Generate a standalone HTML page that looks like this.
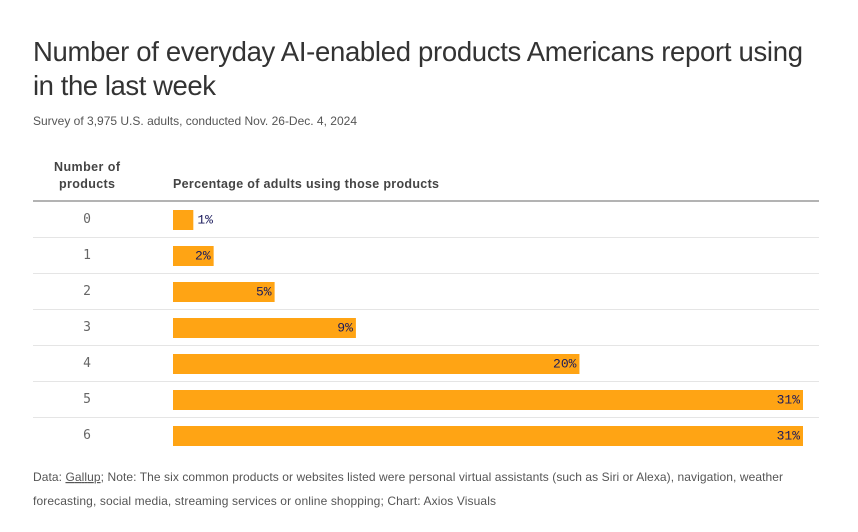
<!DOCTYPE html>
<html lang="en">
<head>
<meta charset="utf-8">
<title>Number of everyday AI-enabled products</title>
<style>
html,body{margin:0;padding:0;background:#fff;}
svg{display:block;}
text{font-family:"Liberation Sans",sans-serif;}
.mono{font-family:"Liberation Mono",monospace;}
.mono-cat{font-family:"DejaVu Sans Mono",monospace;}
</style>
</head>
<body>
<svg id="chart" width="858" height="532" viewBox="0 0 858 532" xmlns="http://www.w3.org/2000/svg">
  <rect x="0" y="0" width="858" height="532" fill="#fff"/>
  <text x="33" y="61" font-size="27.5" fill="#333" textLength="770" lengthAdjust="spacing">Number of everyday AI-enabled products Americans report using</text>
  <text x="33" y="95" font-size="27.5" fill="#333" textLength="183" lengthAdjust="spacing">in the last week</text>
  <text x="33" y="125" font-size="12" fill="#555" textLength="324" lengthAdjust="spacing">Survey of 3,975 U.S. adults, conducted Nov. 26-Dec. 4, 2024</text>
  <text x="87" y="171" font-size="12.5" font-weight="bold" fill="#444" text-anchor="middle" textLength="66" lengthAdjust="spacing">Number of</text>
  <text x="87" y="188" font-size="12.5" font-weight="bold" fill="#444" text-anchor="middle" textLength="56" lengthAdjust="spacing">products</text>
  <text x="173" y="188" font-size="12.5" font-weight="bold" fill="#444" textLength="266" lengthAdjust="spacing">Percentage of adults using those products</text>
  <rect x="33" y="200" width="786" height="2" fill="#b3b3b3"/>
  <g id="rows"></g>
  <text x="33" y="481" font-size="12" fill="#555" textLength="750" lengthAdjust="spacing">Data: <tspan text-decoration="underline">Gallup</tspan>; Note: The six common products or websites listed were personal virtual assistants (such as Siri or Alexa), navigation, weather</text>
  <text x="33" y="505" font-size="12" fill="#555" textLength="463" lengthAdjust="spacing">forecasting, social media, streaming services or online shopping; Chart: Axios Visuals</text>
</svg>
<script>
var categories = ["0", "1", "2", "3", "4", "5", "6"];
var seriesValues = [1, 2, 5, 9, 20, 31, 31];
var valueLabels = ["1%", "2%", "5%", "9%", "20%", "31%", "31%"];

var NS = 'http://www.w3.org/2000/svg';
var rowsGroup = document.getElementById('rows');
function xScale(v) { return v * 630 / 31; }
function rowTop(i) { return 202 + i * 36; }

function addSvg(tag, attrs, parent) {
  var el = document.createElementNS(NS, tag);
  for (var k in attrs) { el.setAttribute(k, attrs[k]); }
  parent.appendChild(el);
  return el;
}

categories.forEach(function (cat, i) {
  var top = rowTop(i);
  var w = xScale(seriesValues[i]);

  var label = addSvg('text', {x: 87, y: top + 21, 'font-size': 13, fill: '#666', 'text-anchor': 'middle', 'class': 'mono-cat'}, rowsGroup);
  
  
  label.textContent = cat;

  var bar = addSvg('rect', {x: 173, y: top + 8, width: w, height: 20, fill: '#ffa414'}, rowsGroup);
  
  

  var outside = seriesValues[i] < 2;
  var val = addSvg('text', {
    x: outside ? 173 + w + 4 : 173 + w - 3,
    y: top + 21.5,
    'font-size': 13,
    fill: '#1a1a5c',
    'text-anchor': outside ? 'start' : 'end',
    'class': 'mono'
  }, rowsGroup);
  
  
  val.textContent = valueLabels[i];

  if (i < categories.length - 1) {
    var rule = addSvg('rect', {x: 33, y: top + 35, width: 786, height: 1, fill: '#e5e5e5'}, rowsGroup);
    
    
  }
});
</script>
</body>
</html>
